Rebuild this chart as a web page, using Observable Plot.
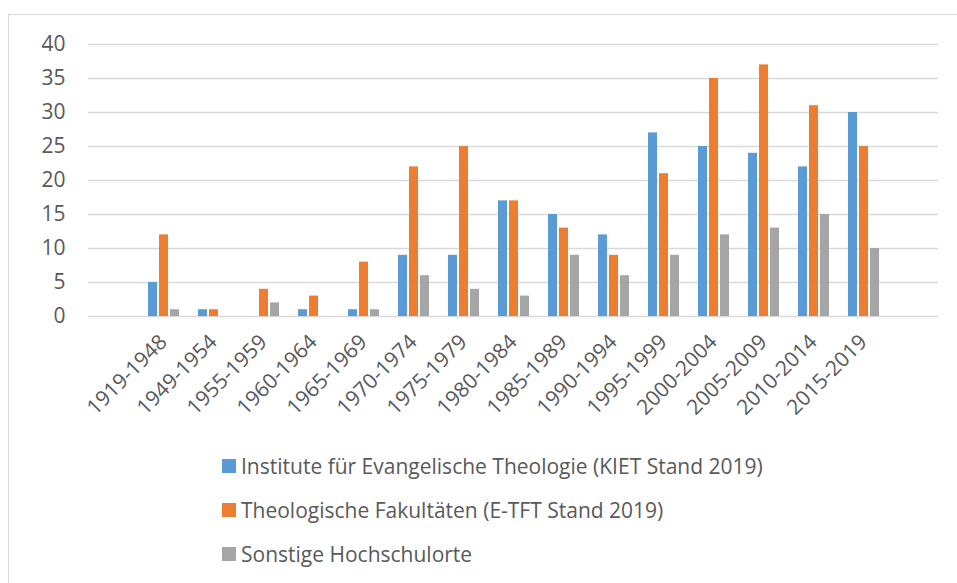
<!DOCTYPE html>
<html>
<head>
<meta charset="utf-8">
<script src="https://cdn.jsdelivr.net/npm/d3@7"></script>
<script src="https://cdn.jsdelivr.net/npm/@observablehq/plot@0.6"></script>
<style>
  html, body { margin: 0; padding: 0; background: #fff; }
  #wrap { position: relative; width: 957px; height: 583px; overflow: hidden; font-family: "Open Sans", sans-serif; }
  #frame { position: absolute; left: 8px; top: 14px; width: 960px; height: 600px; border: 1px solid #d9d9d9; box-sizing: border-box; }
  #chart { position: absolute; left: 0; top: 0; }
  #legend { position: absolute; left: 222px; top: 451px; color: #595959; font-size: 21px; }
  .row { display: flex; align-items: center; height: 30px; margin-bottom: 14px; }
  .sw { width: 14px; height: 14px; margin-right: 5px; flex: none; }
</style>
</head>
<body>
<div id="wrap">
  <div id="frame"></div>
  <div id="chart"></div>
  <div id="legend"></div>
</div>
<script>
const periods = ["1919-1948","1949-1954","1955-1959","1960-1964","1965-1969","1970-1974","1975-1979","1980-1984","1985-1989","1990-1994","1995-1999","2000-2004","2005-2009","2010-2014","2015-2019"];
const seriesNames = [
  "Institute für Evangelische Theologie (KIET Stand 2019)",
  "Theologische Fakultäten (E-TFT Stand 2019)",
  "Sonstige Hochschulorte"
];
const kiet = [5, 1, 0, 1, 1, 9, 9, 17, 15, 12, 27, 25, 24, 22, 30];
const etft = [12, 1, 4, 3, 8, 22, 25, 17, 13, 9, 21, 35, 37, 31, 25];
const sonstige = [1, 0, 2, 0, 1, 6, 4, 3, 9, 6, 9, 12, 13, 15, 10];
const colors = ["#5B9BD5", "#ED7D31", "#A5A5A5"];
const yTicks = [0, 5, 10, 15, 20, 25, 30, 35, 40];

const slots = ["", ...periods, " "];
const valueSets = [kiet, etft, sonstige];
const data = [];
periods.forEach((p, i) => {
  seriesNames.forEach((s, j) => data.push({period: p, series: s, value: valueSets[j][i]}));
});
const gridData = [];
slots.forEach(p => yTicks.forEach(t => gridData.push({period: p, tick: t})));

const chart = Plot.plot({
  width: 957,
  height: 440,
  marginLeft: 85,
  marginRight: 17,
  marginTop: 44,
  marginBottom: 124,
  style: {fontFamily: "'Open Sans', sans-serif", fontSize: "21px", color: "#595959", background: "transparent"},
  fx: {domain: slots, padding: 0, label: null, tickRotate: -45, tickSize: 0, tickPadding: 22},
  x: {domain: seriesNames, paddingInner: 0.2, paddingOuter: 0.87, axis: null},
  y: {domain: [0, 40], ticks: yTicks, label: null, tickSize: 0, tickPadding: 23},
  color: {domain: seriesNames, range: colors},
  marks: [
    Plot.ruleY(gridData, {fx: "period", y: "tick", stroke: "#d9d9d9", strokeWidth: 1.4}),
    Plot.barY(data, {fx: "period", x: "series", y: "value", fill: "series"})
  ]
});
document.getElementById("chart").appendChild(chart);

const legend = document.getElementById("legend");
seriesNames.forEach((s, j) => {
  const row = document.createElement("div");
  row.className = "row";
  const sw = document.createElement("div");
  sw.className = "sw";
  sw.style.background = colors[j];
  const t = document.createElement("span");
  t.textContent = s;
  row.appendChild(sw);
  row.appendChild(t);
  legend.appendChild(row);
});
</script>
</body>
</html>
